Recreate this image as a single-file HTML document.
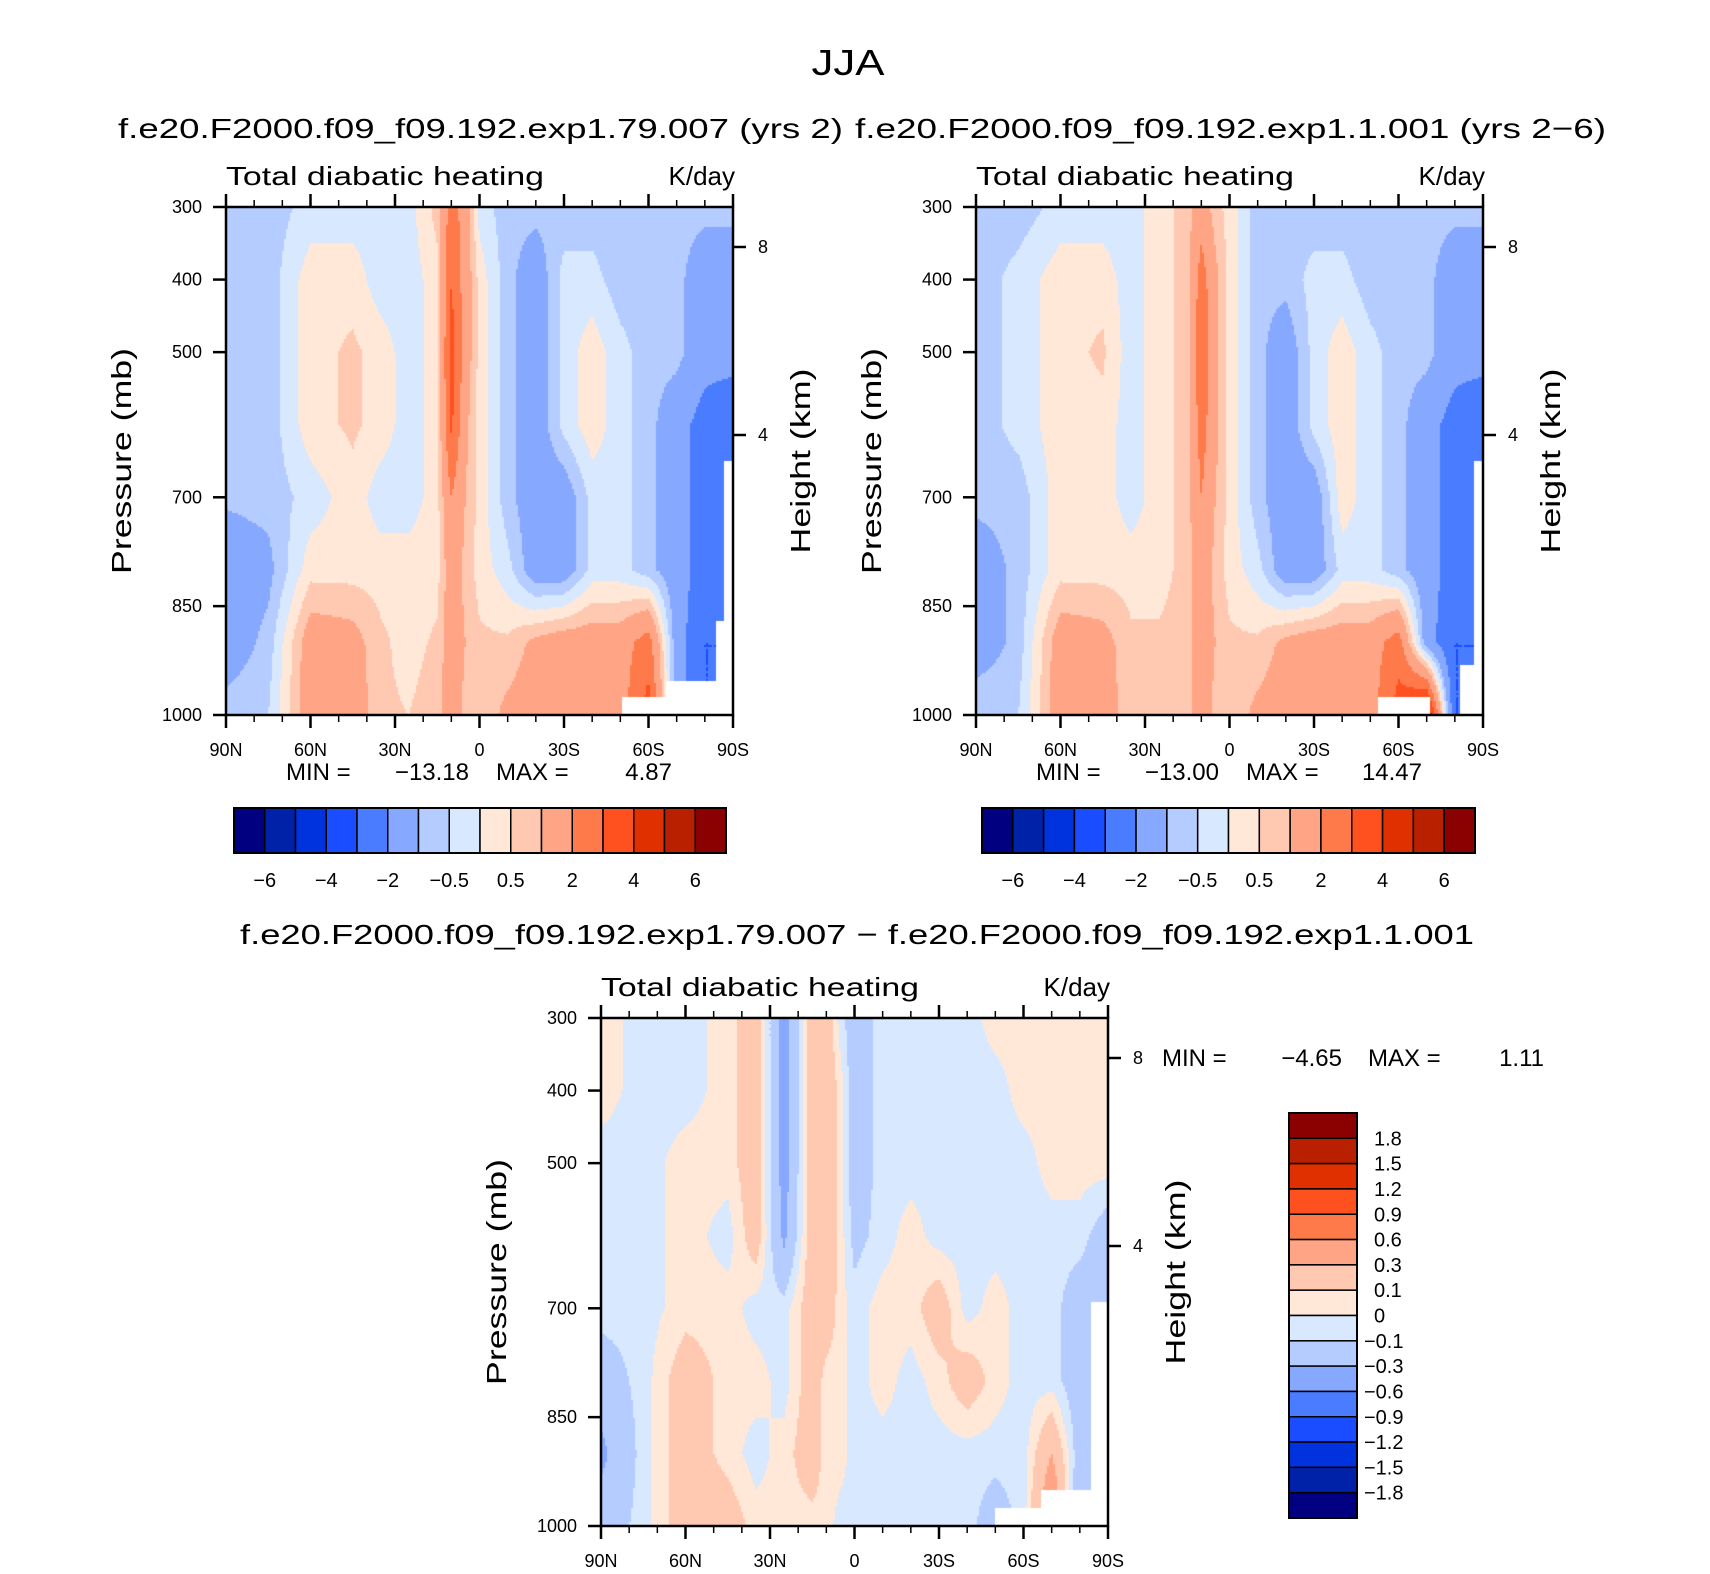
<!DOCTYPE html>
<html><head><meta charset="utf-8"><style>
html,body{margin:0;padding:0;background:#fff;}
#wrap{position:relative;width:1710px;height:1574px;overflow:hidden;font-family:"Liberation Sans",sans-serif;}
canvas{position:absolute;}
svg{position:absolute;left:0;top:0;}
text{font-family:"Liberation Sans",sans-serif;fill:#000;}
</style></head><body>
<div id="wrap">
<canvas id="c1" style="left:226px;top:207px" width="507" height="508"></canvas>
<canvas id="c2" style="left:976px;top:207px" width="507" height="508"></canvas>
<canvas id="c3" style="left:601px;top:1018px" width="507" height="508"></canvas>
<svg id="s" width="1710" height="1574"></svg>
</div>
<script>
// ---- data ----
const lats = [90,75,60,45,35,25,15,10,5,0,-10,-20,-30,-40,-50,-60,-70,-80,-90];
const pres = [300,400,500,600,700,800,900,1000];
const field1 = [
[-0.8,-0.8,-0.3,-0.3,-0.3,-0.2,0.7,2.5,1.5,-0.2,-0.8,-0.8,-0.8,-0.8,-0.8,-0.8,-0.8,-0.8,-0.8],
[-0.8,-0.8,0.3,0.3,-0.3,-0.3,0.3,3.0,1.5,0.3,-0.8,-1.5,-0.3,-0.3,-0.8,-0.8,-0.8,-1.5,-1.5],
[-0.8,-0.8,0.3,0.6,0.3,-0.3,0.3,3.5,1.5,0.3,-0.8,-1.5,-0.3,0.3,-0.3,-0.8,-0.8,-1.5,-1.5],
[-0.8,-0.8,0.3,0.6,0.3,-0.3,0.3,3.2,1.2,0.3,-0.8,-1.5,-0.3,0.3,-0.3,-0.8,-1.5,-2.5,-3],
[-0.9,-0.8,-0.3,0.3,-0.3,-0.3,0.3,2.0,1.0,0.3,-0.8,-1.5,-1.5,-0.3,-0.3,-0.8,-1.5,-2.5,-3],
[-1.5,-1.2,0.3,0.3,0.3,0.3,0.3,1.5,0.8,0.3,-0.3,-1.5,-1.5,-0.3,-0.3,-0.8,-1.5,-2.5,-3],
[-1.5,-0.8,1.5,1.3,0.6,0.3,0.6,1.5,1.0,0.6,0.6,1.2,1.5,1.5,1.5,2.5,-1.5,-3,-3],
[-0.7,-0.5,1.5,1.5,0.6,0.5,0.8,1.5,0.8,0.6,1.2,1.5,1.5,1.5,1.5,3.5,-1.5,-3,-3]];
const field2 = [
[-0.8,-0.8,-0.3,-0.3,-0.3,0.3,0.7,1.5,0.7,0.3,-0.8,-0.8,-0.8,-0.8,-0.8,-0.8,-0.8,-0.8,-0.8],
[-0.8,-0.3,0.3,0.3,-0.3,0.3,0.7,2.5,1.2,0.3,-0.8,-0.8,-0.3,-0.3,-0.8,-0.8,-0.8,-1.5,-1.5],
[-0.8,-0.3,0.3,0.6,-0.3,0.3,0.7,2.8,1.2,0.3,-0.8,-1.5,-0.3,0.3,-0.3,-0.8,-0.8,-1.5,-1.5],
[-0.8,-0.3,0.3,0.3,-0.3,0.3,0.7,2.5,1.2,0.3,-0.8,-1.5,-0.3,0.3,-0.3,-0.8,-1.5,-2.5,-3],
[-0.8,-0.8,0.3,0.3,-0.3,0.3,0.7,2.0,1.0,0.3,-0.8,-1.5,-1.5,0.3,-0.3,-0.8,-1.5,-2.5,-3],
[-1.5,-0.8,0.3,0.3,0.3,0.3,0.7,1.5,0.8,0.3,-0.3,-1.5,-1.5,-0.3,-0.3,-0.8,-1.5,-2.5,-3],
[-1.5,-0.8,1.5,1.3,0.6,0.6,0.7,1.5,1.0,0.6,0.6,1.2,1.5,1.5,1.5,2.5,-1.5,-3,-3],
[-0.5,-0.5,1.5,1.5,0.6,0.6,0.8,1.5,0.8,0.6,1.2,1.5,1.5,1.5,1.5,3.5,5.5,-3,-3]];
const field3 = [
[0.05,-0.05,-0.05,0.05,0.2,-0.4,0.2,0.2,-0.05,-0.2,-0.05,-0.05,-0.05,-0.05,0.05,0.05,0.05,0.05,0.05],
[0.05,-0.05,-0.05,0.05,0.2,-0.4,0.2,0.25,0.05,-0.2,-0.05,-0.05,-0.05,-0.05,-0.05,0.05,0.05,0.05,0.05],
[-0.05,-0.05,0.05,0.05,0.2,-0.4,0.2,0.25,0.05,-0.2,-0.05,-0.05,-0.05,-0.05,-0.05,-0.05,0.05,0.05,0.05],
[-0.05,-0.05,0.05,-0.05,0.2,-0.35,0.2,0.25,0.05,-0.15,-0.05,0.05,-0.05,-0.05,-0.05,-0.05,-0.05,-0.05,-0.2],
[-0.05,-0.05,0.05,0.05,-0.05,-0.05,0.2,0.2,0.05,-0.05,0.05,0.05,0.2,-0.05,0.05,-0.05,-0.05,-0.2,-0.2],
[-0.2,-0.05,0.2,0.05,0.05,-0.05,0.2,0.05,0.05,-0.05,0.05,-0.05,0.05,0.2,0.05,-0.05,-0.05,-0.2,-0.05],
[-0.35,-0.05,0.2,0.05,-0.05,0.05,0.2,0.05,0.05,-0.05,-0.05,-0.05,-0.05,-0.05,-0.05,-0.05,0.3,-0.2,-0.05],
[-0.2,-0.05,0.2,0.2,0.05,0.05,0.05,0.05,-0.05,-0.05,-0.05,-0.05,-0.05,-0.05,-0.2,-0.05,0.6,-0.3,-0.05]];
const levelsMain = [-6,-5,-4,-3,-2,-1,-0.5,0,0.5,1,2,3,4,5,6];
const levelsDiff = [-1.8,-1.5,-1.2,-0.9,-0.6,-0.3,-0.1,0,0.1,0.3,0.6,0.9,1.2,1.5,1.8];
const barLabelsMain = ["−6","−4","−2","−0.5","0.5","2","4","6"];
const barLabelsDiff = ["1.8","1.5","1.2","0.9","0.6","0.3","0.1","0","−0.1","−0.3","−0.6","−0.9","−1.2","−1.5","−1.8"];
const xTickLabels = ["90N","60N","30N","0","30S","60S","90S"];
const pTicks = [300,400,500,700,850,1000];
const hTicks = [8,4];
const palette = ["#000080","#0022a8","#0033dd","#1a4dff","#4a7cff","#86a8ff","#b4ccff","#d8e8ff","#ffe8d8","#ffc8b0","#ffa585","#ff7a4a","#ff5020","#e03000","#b82000","#8b0000"];

// ---- helpers ----
function interp(field, lat, p){
  let i=0; while(i<lats.length-2 && lat<lats[i+1]) i++;
  let j=0; while(j<pres.length-2 && p>pres[j+1]) j++;
  const tx=(lats[i]-lat)/(lats[i]-lats[i+1]);
  const ty=(p-pres[j])/(pres[j+1]-pres[j]);
  const a=field[j][i],b=field[j][i+1],c=field[j+1][i],d=field[j+1][i+1];
  return (a*(1-tx)+b*tx)*(1-ty)+(c*(1-tx)+d*tx)*ty;
}
function colorOf(v,levels){let k=0;while(k<levels.length&&v>=levels[k])k++;return palette[k];}
function surf1(lat){ if(lat>-50.5) return 1100; if(lat>-66) return 975; if(lat>-84) return 952; if(lat>-86.5) return 870; return 650;}
function surf2(lat){ if(lat>-52.5) return 1100; if(lat>-71.5) return 975; if(lat>-82) return 1100; if(lat>-87) return 930; return 650;}
function surf3(lat){ if(lat>-50) return 1100; if(lat>-66) return 975; if(lat>-84) return 950; return 690;}
function drawField(id, field, levels, surf){
  const cv=document.getElementById(id), ctx=cv.getContext('2d');
  const W=cv.width,H=cv.height, st=2;
  for(let x=0;x<W;x+=st){
    const lat=90-(x+1)/W*180;
    for(let y=0;y<H;y+=st){
      const p=300+(y+1)/H*700;
      if(p>surf(lat)){ctx.fillStyle="#fff";}
      else ctx.fillStyle=colorOf(interp(field,lat,p),levels);
      ctx.fillRect(x,y,st,st);
    }
  }
}
drawField('c1',field1,levelsMain,surf1);
drawField('c2',field2,levelsMain,surf2);
drawField('c3',field3,levelsDiff,surf3);

const NS="http://www.w3.org/2000/svg", svg=document.getElementById('s');
function el(tag,attrs,parent){const e=document.createElementNS(NS,tag);for(const k in attrs)e.setAttribute(k,attrs[k]);(parent||svg).appendChild(e);return e;}
function txt(str,x,y,size,anchor,name,extra){const t=el('text',Object.assign({x:x,y:y,'font-size':size,'text-anchor':anchor||'start'},extra||{}));t.textContent=str;


return t;}

function axes(L,T,W,H,tag){
  const g=el('g',{});
  
  
  el('rect',{x:L,y:T,width:W,height:H,fill:'none',stroke:'#000','stroke-width':2.5},g);
  const xs=lat=>L+(90-lat)/180*W, ys=p=>T+(p-300)/700*H;
  for(let lat=90;lat>=-90;lat-=10){
    const major=(lat%30===0), len=major?13:7, x=xs(lat);
    el('line',{x1:x,x2:x,y1:T,y2:T-len,stroke:'#000','stroke-width':major?2.5:1.5},g);
    el('line',{x1:x,x2:x,y1:T+H,y2:T+H+len,stroke:'#000','stroke-width':major?2.5:1.5},g);
  }
  xTickLabels.forEach((s,i)=>{txt(s,xs(90-30*i),T+H+41,18,'middle','x-tick-label');});
  pTicks.forEach(p=>{const y=ys(p);el('line',{x1:L,x2:L-13,y1:y,y2:y,stroke:'#000','stroke-width':2.5},g);
    txt(String(p),L-24,y+6,18,'end','y-tick-label');});
  hTicks.forEach(h=>{const p=1000*Math.exp(-h/7.0);const y=(h===8)?T+40:T+228;
    el('line',{x1:L+W,x2:L+W+13,y1:y,y2:y,stroke:'#000','stroke-width':2.5},g);
    txt(String(h),L+W+30,y+6,18,'middle','height-tick-label');});
  txt('Total diabatic heating',L,T-22,26,'start','plot-left-string',{textLength:318,lengthAdjust:'spacingAndGlyphs'});
  txt('K/day',L+W+2,T-22,26,'end','units-label');
  const py=T+H/2;
  txt('Pressure (mb)',0,0,28,'middle','y-axis-title',{transform:`translate(${L-95},${py}) rotate(-90)`,textLength:226,lengthAdjust:'spacingAndGlyphs'});
  txt('Height (km)',0,0,28,'middle','height-axis-title',{transform:`translate(${L+W+77},${py}) rotate(-90)`,textLength:185,lengthAdjust:'spacingAndGlyphs'});
}
axes(226,207,507,508,'left');
axes(976,207,507,508,'right');
axes(601,1018,507,508,'diff');

txt('JJA',848,75,36,'middle','main-title',{textLength:73,lengthAdjust:'spacingAndGlyphs'});
txt('f.e20.F2000.f09_f09.192.exp1.79.007 (yrs 2)',118,138,28,'start','left-plot-title',{textLength:725,lengthAdjust:'spacingAndGlyphs'});
txt('f.e20.F2000.f09_f09.192.exp1.1.001 (yrs 2−6)',855,138,28,'start','right-plot-title',{textLength:751,lengthAdjust:'spacingAndGlyphs'});
txt('f.e20.F2000.f09_f09.192.exp1.79.007 − f.e20.F2000.f09_f09.192.exp1.1.001',240,944,28,'start','difference-title',{textLength:1234,lengthAdjust:'spacingAndGlyphs'});

function minmax(x0,y,mn,mx){
  txt('MIN =',x0,y,24,'start','min-label');txt(mn,x0+183,y,24,'end','min-value');
  txt('MAX =',x0+210,y,24,'start','max-label');txt(mx,x0+386,y,24,'end','max-value');
}
minmax(286,780,'−13.18','4.87');
minmax(1036,780,'−13.00','14.47');
txt('MIN =',1162,1066,24,'start','min-label');txt('−4.65',1342,1066,24,'end','min-value');
txt('MAX =',1368,1066,24,'start','max-label');txt('1.11',1544,1066,24,'end','max-value');

function hbar(L,T,W,H,name){
  const g=el('g',{});
  
  
  const bw=W/palette.length;
  palette.forEach((c,i)=>{el('rect',{x:L+i*bw,y:T,width:bw,height:H,fill:c,stroke:'#000','stroke-width':1.5},g);});
  el('rect',{x:L,y:T,width:W,height:H,fill:'none',stroke:'#000','stroke-width':2},g);
  barLabelsMain.forEach((s,i)=>{txt(s,L+(1+2*i)*bw,T+H+34,20,'middle','colorbar-label');});
}
hbar(234,808,492,45,'colorbar-left');
hbar(982,808,493,45,'colorbar-right');
(function(){
  const L=1289,T=1113,W=68,H=405,bh=H/16;
  const g=el('g',{});
  
  
  for(let i=0;i<16;i++){el('rect',{x:L,y:T+i*bh,width:W,height:bh,fill:palette[15-i],stroke:'#000','stroke-width':1.5},g);}
  el('rect',{x:L,y:T,width:W,height:H,fill:'none',stroke:'#000','stroke-width':2},g);
  barLabelsDiff.forEach((s,i)=>{const neg=s[0]==='−';txt(s,neg?1364:1374,T+(i+1)*bh+7,20,'start','colorbar-label');});
})();
</script>
</body></html>
